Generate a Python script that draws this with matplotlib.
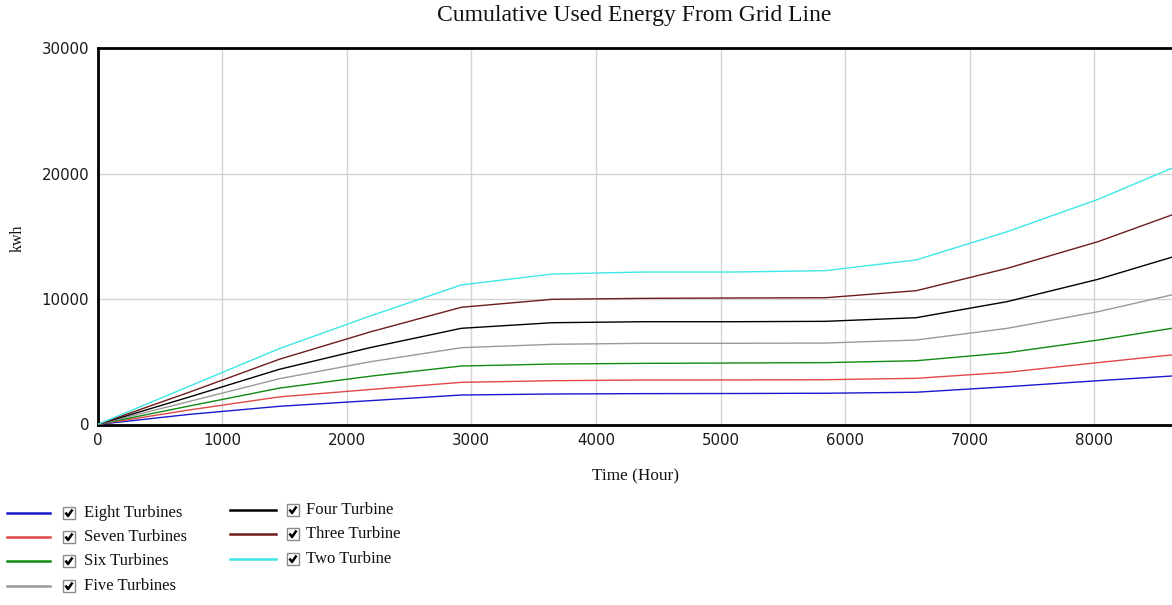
import matplotlib
matplotlib.use("Agg")
import matplotlib.pyplot as plt
from matplotlib.lines import Line2D
from matplotlib.patches import Rectangle

# Simulation time (hours) and cumulative grid energy (kWh) per turbine count
hours = [0, 730, 1460, 2190, 2920, 3650, 4380, 5110, 5840, 6570, 7300, 8030, 8760]
eight_turbines = [0, 800, 1450, 1900, 2350, 2430, 2460, 2470, 2490, 2570, 3010, 3490, 3950]
seven_turbines = [0, 1150, 2200, 2790, 3360, 3490, 3545, 3550, 3570, 3680, 4160, 4930, 5690]
six_turbines = [0, 1460, 2900, 3850, 4660, 4820, 4870, 4900, 4930, 5080, 5720, 6730, 7880]
five_turbines = [0, 1820, 3650, 5000, 6120, 6390, 6470, 6470, 6490, 6730, 7660, 8990, 10640]
four_turbine = [0, 2170, 4400, 6130, 7665, 8110, 8190, 8190, 8220, 8510, 9790, 11570, 13740]
three_turbine = [0, 2550, 5200, 7380, 9340, 9975, 10050, 10080, 10100, 10660, 12440, 14570, 17190]
two_turbine = [0, 3020, 6050, 8650, 11120, 11990, 12150, 12150, 12260, 13110, 15360, 17940, 21000]

x_ticks = [0, 1000, 2000, 3000, 4000, 5000, 6000, 7000, 8000]
y_ticks = [0, 10000, 20000, 30000]

series = [
    ("Eight Turbines", eight_turbines, "#1a1acc"),
    ("Seven Turbines", seven_turbines, "#e04848"),
    ("Six Turbines", six_turbines, "#128a12"),
    ("Five Turbines", five_turbines, "#999999"),
    ("Four Turbine", four_turbine, "#000000"),
    ("Three Turbine", three_turbine, "#6e1c1c"),
    ("Two Turbine", two_turbine, "#3ee6e6"),
]

W, H = 1172, 605
fig = plt.figure(figsize=(W / 100, H / 100), dpi=100)
fig.patch.set_facecolor("white")

x0_px, x1_px = 97.5, 1189.0
y_top_px, y_bot_px = 48.0, 424.5
ax = fig.add_axes([x0_px / W, 1 - y_bot_px / H, (x1_px - x0_px) / W, (y_bot_px - y_top_px) / H])

for name, vals, col in series:
    ax.plot(hours, vals, color=col, lw=1.0, zorder=3)

ax.set_xlim(0, 8760)
ax.set_ylim(0, 30000)
ax.set_xticks(x_ticks)
ax.set_yticks(y_ticks)
ax.set_xticklabels([str(v) for v in x_ticks])
ax.set_yticklabels([str(v) for v in y_ticks])
ax.tick_params(length=0, labelsize=10.8, pad=6, colors="#1a1a1a")
ax.grid(True, color="#d4d4d4", lw=1.0, zorder=0)
for s in ("left", "bottom", "top"):
    ax.spines[s].set_linewidth(2.0)
    ax.spines[s].set_color("black")
ax.spines["right"].set_visible(False)

serif = ["Liberation Serif", "DejaVu Serif"]
fig.text(634 / W, 1 - 16 / H, "Cumulative Used Energy From Grid Line", ha="center", va="center",
         family=serif, fontsize=17, color="#111111")
fig.text(635 / W, 1 - 476 / H, "Time (Hour)", ha="center", va="center",
         family=serif, fontsize=12.4, color="#111111")
fig.text(18 / W, 1 - 238 / H, "kwh", ha="center", va="center", rotation=90,
         family=serif, fontsize=11.5, color="#111111")

# Legend with check boxes, laid out in two columns
col_x = [(7, 50, 63, 84), (230, 276, 287, 306)]
rows_y = [[513, 537, 561, 586], [510, 534, 559]]
idx = 0
for c, ys in enumerate(rows_y):
    lx0, lx1, bx, tx = col_x[c]
    for y in ys:
        name, vals, col = series[idx]
        idx += 1
        fig.add_artist(Line2D([lx0 / W, lx1 / W], [1 - y / H, 1 - y / H], color=col, lw=1.8))
        s = 12
        fig.add_artist(Rectangle((bx / W, 1 - (y + s / 2) / H), s / W, s / H,
                                 facecolor="white", edgecolor="#8a8a8a", lw=1.0))
        fig.add_artist(Line2D([(bx + 2.5) / W, (bx + 5.0) / W, (bx + 9.5) / W],
                              [1 - (y - 0.5) / H, 1 - (y + 3.0) / H, 1 - (y - 3.5) / H],
                              color="black", lw=1.8, solid_capstyle="butt"))
        fig.text(tx / W, 1 - y / H, name, ha="left", va="center", family=serif,
                 fontsize=12, color="#111111")

fig.savefig("out.png", dpi=100, facecolor="white")
